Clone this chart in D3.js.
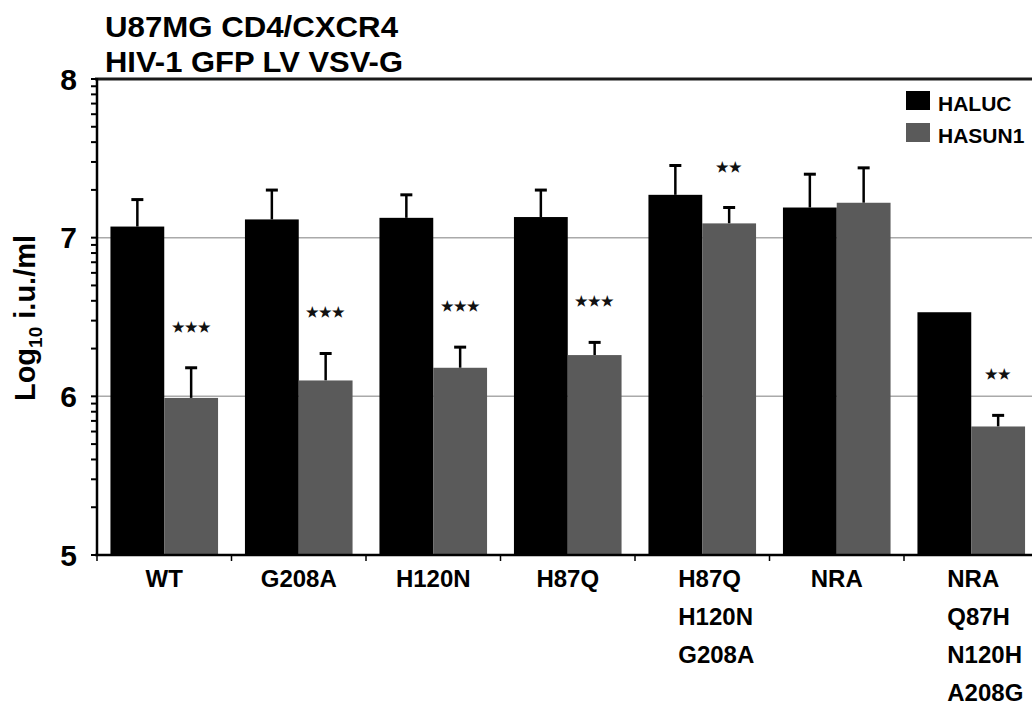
<!DOCTYPE html>
<html>
<head>
<meta charset="utf-8">
<script src="https://cdn.jsdelivr.net/npm/d3@7"></script>
<style>
  body { margin: 0; background: #fff; }
  text { font-family: "Liberation Sans", Arial, sans-serif; font-weight: bold; }
</style>
</head>
<body>
<svg id="chart" width="1032" height="709"></svg>
<script>
// data
const groups = [["WT"], ["G208A"], ["H120N"], ["H87Q"], ["H87Q", "H120N", "G208A"], ["NRA"], ["NRA", "Q87H", "N120H", "A208G"]];
const series = ["HALUC", "HASUN1"];
const haluc = [7.07, 7.115, 7.125, 7.13, 7.27, 7.19, 6.53];
const halucErr = [0.17, 0.185, 0.145, 0.17, 0.185, 0.21, 0];
const hasun1 = [5.99, 6.10, 6.18, 6.26, 7.09, 7.22, 5.81];
const hasun1Err = [0.19, 0.17, 0.13, 0.08, 0.10, 0.22, 0.07];
const stars = ["***", "***", "***", "***", "**", "", "**"];
const yTicks = [5, 6, 7, 8];
const colors = { HALUC: "#000000", HASUN1: "#5a5a5a" };

const svg = d3.select("#chart");
const margin = { left: 97, top: 79, bottom: 555 };
const step = 134.5;

const keys = groups.map((g, i) => "g" + i);
const x = d3.scaleBand().domain(keys).range([margin.left, margin.left + step * keys.length]).padding(0);
const xi = d3.scaleBand().domain(series).range([0, x.bandwidth()]).paddingInner(0).paddingOuter(0.25);
const y = d3.scaleLinear().domain([5, 8]).range([margin.bottom, margin.top]);

const rows = [];
keys.forEach((k, i) => {
  rows.push({ key: k, s: "HALUC", v: haluc[i], e: halucErr[i], star: "" });
  rows.push({ key: k, s: "HASUN1", v: hasun1[i], e: hasun1Err[i], star: stars[i] });
});

// gridlines
svg.append("g").selectAll("line").data([6, 7]).join("line")
  .attr("x1", margin.left).attr("x2", 1032)
  .attr("y1", d => y(d)).attr("y2", d => y(d))
  .attr("stroke", "#aaaaaa").attr("stroke-width", 1.5);

// top frame line
svg.append("line")
  .attr("x1", margin.left - 2).attr("x2", 1032)
  .attr("y1", y(8)).attr("y2", y(8))
  .attr("stroke", "#1a1a1a").attr("stroke-width", 3);

// error bars (up only)
const eb = svg.append("g");
rows.filter(d => d.e > 0).forEach(d => {
  const cx = x(d.key) + xi(d.s) + xi.bandwidth() / 2;
  eb.append("line").attr("x1", cx).attr("x2", cx)
    .attr("y1", y(d.v)).attr("y2", y(d.v + d.e))
    .attr("stroke", "#000").attr("stroke-width", 2.5);
  eb.append("line").attr("x1", cx - 6).attr("x2", cx + 6)
    .attr("y1", y(d.v + d.e)).attr("y2", y(d.v + d.e))
    .attr("stroke", "#000").attr("stroke-width", 3);
});

// bars
svg.append("g").selectAll("rect").data(rows).join("rect")
  .attr("x", d => x(d.key) + xi(d.s))
  .attr("width", xi.bandwidth())
  .attr("y", d => y(d.v))
  .attr("height", d => y(5) - y(d.v))
  .attr("fill", d => colors[d.s]);

// significance stars
svg.append("g").selectAll("text").data(rows.filter(d => d.star)).join("text")
  .attr("x", d => x(d.key) + xi(d.s) + xi.bandwidth() / 2)
  .attr("y", d => y(d.v + d.e) - 36)
  .attr("text-anchor", "middle")
  .attr("font-size", 14)
  .attr("fill", "#111")
  .text(d => d.star.replace(/\*/g, "\u2605"));

// y axis with log minor ticks
const yAxis = svg.append("g");
yAxis.append("line").attr("x1", margin.left).attr("x2", margin.left)
  .attr("y1", y(8) - 1).attr("y2", y(5) + 1)
  .attr("stroke", "#000").attr("stroke-width", 2.5);
const minor = [];
[5, 6, 7].forEach(b => { for (let m = 1; m <= 9; m++) minor.push(b + Math.log10(m)); });
minor.push(8);
yAxis.selectAll(".tk").data(minor).join("line")
  .attr("x1", margin.left - 6).attr("x2", margin.left)
  .attr("y1", d => y(d)).attr("y2", d => y(d))
  .attr("stroke", "#000").attr("stroke-width", 2);
yAxis.selectAll("text").data(yTicks).join("text")
  .attr("x", 77).attr("y", d => y(d))
  .attr("dy", "0.36em")
  .attr("text-anchor", "end")
  .attr("font-size", 30)
  .text(d => d);

// x axis
const xAxis = svg.append("g");
xAxis.append("line").attr("x1", margin.left - 2).attr("x2", 1032)
  .attr("y1", y(5)).attr("y2", y(5))
  .attr("stroke", "#000").attr("stroke-width", 2.5);
xAxis.selectAll("line.tk").data(keys).join("line").attr("class", "tk")
  .attr("x1", d => x(d)).attr("x2", d => x(d))
  .attr("y1", y(5)).attr("y2", y(5) + 6)
  .attr("stroke", "#000").attr("stroke-width", 1.5);

keys.forEach((k, i) => {
  const lines = groups[i];
  const cx = x(k) + x.bandwidth() / 2;
  const multi = lines.length > 1;
  const t = xAxis.append("text")
    .attr("font-size", 24)
    .attr("text-anchor", multi ? "start" : "middle");
  lines.forEach((ln, j) => {
    t.append("tspan")
      .attr("x", multi ? cx - 24 : cx)
      .attr("y", 587 + j * 38)
      .text(ln);
  });
});

// y label
const yl = svg.append("text")
  .attr("transform", "translate(35,318) rotate(-90)")
  .attr("text-anchor", "middle")
  .attr("font-size", 29);
yl.append("tspan").text("Log");
yl.append("tspan").attr("font-size", 19).attr("dy", 7).text("10");
yl.append("tspan").attr("dy", -7).text(" i.u./ml");

// title
svg.append("text").attr("x", 105).attr("y", 37).attr("font-size", 30)
  .attr("textLength", 293).attr("lengthAdjust", "spacingAndGlyphs")
  .text("U87MG CD4/CXCR4");
svg.append("text").attr("x", 105).attr("y", 72).attr("font-size", 30)
  .attr("textLength", 298).attr("lengthAdjust", "spacingAndGlyphs")
  .text("HIV-1 GFP LV VSV-G");

// legend
const lg = svg.append("g");
series.forEach((s, i) => {
  lg.append("rect").attr("x", 906).attr("y", 91 + i * 32)
    .attr("width", 24).attr("height", 19).attr("fill", colors[s]);
  lg.append("text").attr("x", 938).attr("y", 111 + i * 32)
    .attr("font-size", 21).text(s);
});
</script>
</body>
</html>
